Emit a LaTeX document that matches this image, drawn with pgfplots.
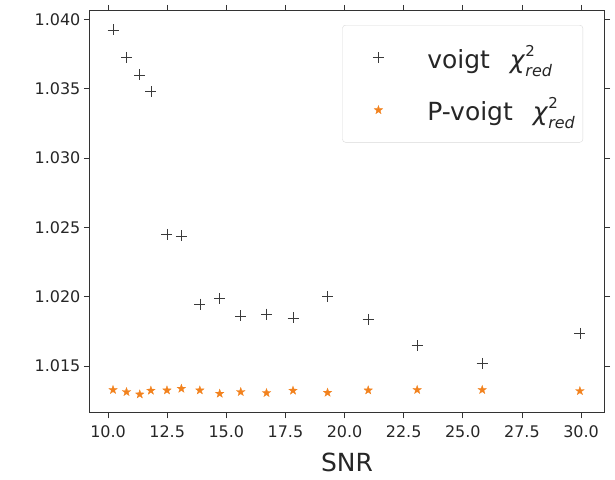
\documentclass[border=0pt]{standalone}
\usepackage{fontspec}
\setmainfont{DejaVu Sans}
\usepackage{pgfplots}
\pgfplotsset{compat=1.18}
\definecolor{pvorange}{HTML}{F2821E}
\definecolor{vgray}{HTML}{3A3A3A}
\pgfdeclareplotmark{fstar}{%
  \pgfpathmoveto{\pgfpointpolar{90}{\pgfplotmarksize}}%
  \pgfpathlineto{\pgfpointpolar{126}{0.4\pgfplotmarksize}}%
  \pgfpathlineto{\pgfpointpolar{162}{\pgfplotmarksize}}%
  \pgfpathlineto{\pgfpointpolar{198}{0.4\pgfplotmarksize}}%
  \pgfpathlineto{\pgfpointpolar{234}{\pgfplotmarksize}}%
  \pgfpathlineto{\pgfpointpolar{270}{0.4\pgfplotmarksize}}%
  \pgfpathlineto{\pgfpointpolar{306}{\pgfplotmarksize}}%
  \pgfpathlineto{\pgfpointpolar{342}{0.4\pgfplotmarksize}}%
  \pgfpathlineto{\pgfpointpolar{18}{\pgfplotmarksize}}%
  \pgfpathlineto{\pgfpointpolar{54}{0.4\pgfplotmarksize}}%
  \pgfpathclose
  \pgfusepathqfillstroke}
\newcommand{\chired}{\textit{χ}\rlap{\raisebox{0.48em}{\fontsize{15}{15}\selectfont 2}}\raisebox{-0.32em}{\fontsize{16}{16}\selectfont\itshape red}}
\begin{document}
\begin{tikzpicture}
\begin{axis}[
  scale only axis,
  width=515pt, height=402pt,
  xmin=9.23, xmax=30.97,
  ymin=1.01166, ymax=1.04061,
  xtick={10,12.5,15,17.5,20,22.5,25,27.5,30},
  ytick={1.015,1.020,1.025,1.030,1.035,1.040},
  scaled y ticks=false, scaled x ticks=false,
  xticklabel style={yshift=-4pt,/pgf/number format/.cd,fixed,fixed zerofill,precision=1,assume math mode=true},
  yticklabel style={/pgf/number format/.cd,fixed,fixed zerofill,precision=3,assume math mode=true},
  ticklabel style={font=\fontsize{16}{19}\selectfont, text=black!85},
  tick align=outside, major tick length=6pt,
  tick style={black!80, line width=0.8pt},
  axis line style={black!80, line width=1pt},
  xlabel={SNR},
  xlabel style={font=\fontsize{25}{30}\selectfont, text=black!85, yshift=-8pt},
  legend cell align=left,
  legend image code/.code={\pgfpathrectangle{\pgfpoint{0pt}{-1pt}}{\pgfpoint{60pt}{2pt}}\pgfusepath{discard}%
    \draw[mark repeat=2,mark phase=2,#1] plot coordinates {(0pt,0pt) (30pt,0pt) (60pt,0pt)};},
  legend style={at={(rel axis cs:0.491,0.965)}, anchor=north west,
    draw=black!15, rounded corners=3pt, fill=white,
    font=\fontsize{25}{30}\selectfont, text=black!85,
    inner xsep=6pt, inner ysep=18pt, row sep=24pt,
    /tikz/every odd column/.style={column sep=17pt}},
]
\addplot[only marks, mark=+, mark size=5.5pt, vgray, line width=0.55pt] coordinates {
(10.21,1.03924) (10.78,1.03727) (11.34,1.03600) (11.81,1.03479)
(12.49,1.02450) (13.10,1.02438) (13.88,1.01947) (14.72,1.01986)
(15.61,1.01861) (16.70,1.01875) (17.82,1.01848) (19.28,1.02000)
(21.00,1.01837) (23.07,1.01647) (25.82,1.01520) (29.95,1.01736)
};
\addlegendentry{voigt\hspace{0.8em}\chired}
\addplot[only marks, mark=fstar, mark size=4.5pt, pvorange, line width=0.3pt] coordinates {
(10.21,1.01328) (10.78,1.01313) (11.34,1.01296) (11.81,1.01323)
(12.49,1.01325) (13.10,1.01337) (13.88,1.01325) (14.72,1.01301)
(15.61,1.01313) (16.70,1.01306) (17.82,1.01323) (19.28,1.01308)
(21.00,1.01325) (23.07,1.01328) (25.82,1.01328) (29.95,1.01320)
};
\addlegendentry{P-voigt\hspace{0.8em}\chired\hspace{7pt}}
\end{axis}
\path ([shift={(-90pt,-67pt)}]current axis.south west) rectangle ([shift={(11pt,11pt)}]current axis.north east);
\end{tikzpicture}
\end{document}
